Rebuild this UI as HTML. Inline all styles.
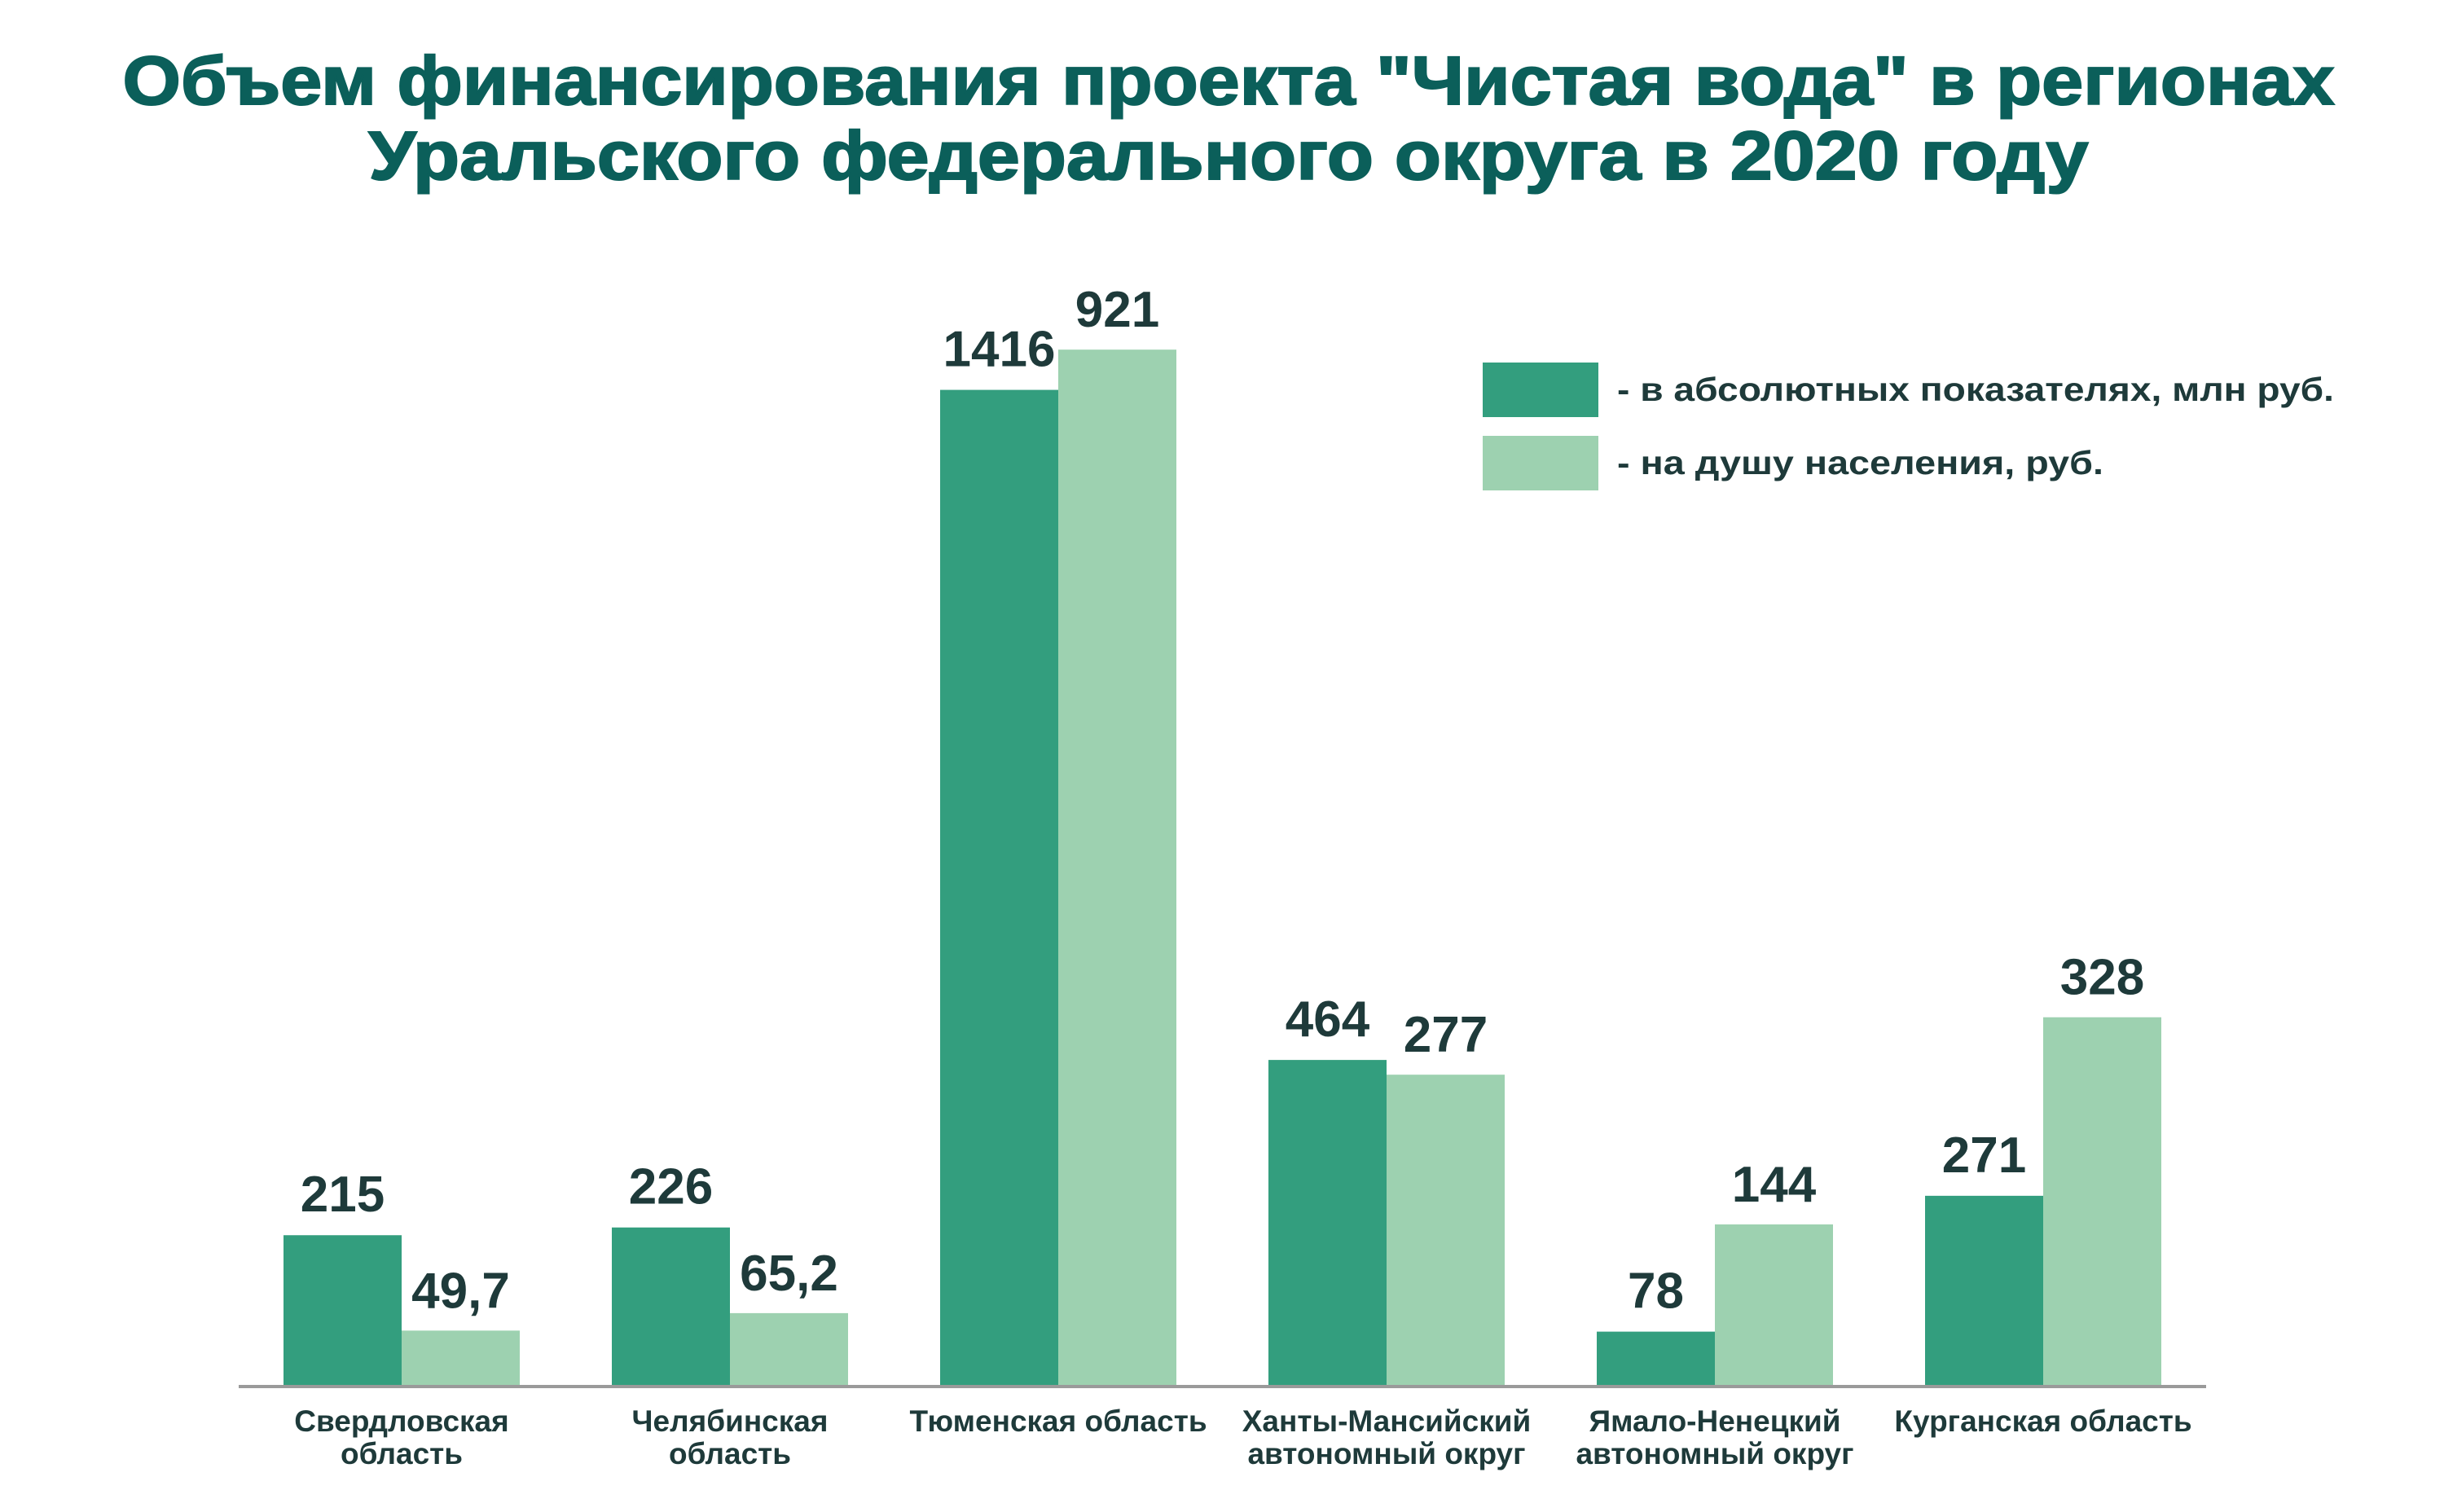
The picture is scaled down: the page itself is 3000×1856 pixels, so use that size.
<!DOCTYPE html>
<html><head><meta charset="utf-8">
<style>
html,body{margin:0;padding:0;background:#fff;}
svg{display:block;font-family:"Liberation Sans",sans-serif;}
</style></head>
<body>
<svg id="chart" width="3000" height="1856" viewBox="0 0 3000 1856" xmlns="http://www.w3.org/2000/svg">
<rect width="3000" height="1856" fill="#fff"/>
<g fill="#0b5f5a" font-weight="900" font-size="84" text-anchor="middle">
<text x="1508" y="128" textLength="2715" lengthAdjust="spacingAndGlyphs" stroke="#0b5f5a" stroke-width="2">Объем финансирования проекта "Чистая вода" в регионах</text>
<text x="1508" y="220" textLength="2111" lengthAdjust="spacingAndGlyphs" stroke="#0b5f5a" stroke-width="2">Уральского федерального округа в 2020 году</text>
</g>
<g>
<rect x="1820" y="445" width="142" height="67" fill="#339e7e"/>
<text x="1985" y="492" font-size="41" font-weight="bold" fill="#1e3a3a" textLength="880" lengthAdjust="spacingAndGlyphs">- в абсолютных показателях, млн руб.</text>
<rect x="1820" y="535" width="142" height="67" fill="#9dd1b0"/>
<text x="1985" y="582" font-size="41" font-weight="bold" fill="#1e3a3a" textLength="597" lengthAdjust="spacingAndGlyphs">- на душу населения, руб.</text>
</g>
<g id="bars"></g>
<line x1="293" y1="1702" x2="2708" y2="1702" stroke="#9a9a9a" stroke-width="4"/>
<g id="labels"></g>
</svg>
<script>
const categories = [["Свердловская","область"],["Челябинская","область"],["Тюменская область"],["Ханты-Мансийский","автономный округ"],["Ямало-Ненецкий","автономный округ"],["Курганская область"]];
const absoluteValues = [215, 226, 1416, 464, 78, 271];
const perCapitaValues = [49.7, 65.2, 921, 277, 144, 328];
const absoluteLabels = ["215","226","1416","464","78","271"];
const perCapitaLabels = ["49,7","65,2","921","277","144","328"];

const NS = "http://www.w3.org/2000/svg";
const baseY = 1702, x0 = 348, step = 403, bw = 145;
function yAbs(v){ return baseY - v * 0.864; }
function yPer(v){ return baseY - v * 1.382; }
function xGroup(i){ return x0 + i * step; }
const bars = document.getElementById("bars");
const labels = document.getElementById("labels");
function mk(tag, attrs, parent){ const e=document.createElementNS(NS,tag); for(const k in attrs) e.setAttribute(k,attrs[k]); parent.appendChild(e); return e; }
categories.forEach((cat,i)=>{
  const gx = xGroup(i);
  const ya = yAbs(absoluteValues[i]);
  const r1 = mk("rect",{x:gx,y:ya,width:bw,height:baseY-ya,fill:"#339e7e"},bars);
  
  
  const yp = yPer(perCapitaValues[i]);
  const r2 = mk("rect",{x:gx+bw,y:yp,width:bw,height:baseY-yp,fill:"#9dd1b0"},bars);
  
  
  const t1 = mk("text",{x:gx+bw/2,y:ya-29,"text-anchor":"middle","font-size":"62","font-weight":"bold",fill:"#1e3a3a"},labels);
  t1.textContent = absoluteLabels[i];
  
  
  const t2 = mk("text",{x:gx+bw*1.5,y:yp-28,"text-anchor":"middle","font-size":"62","font-weight":"bold",fill:"#1e3a3a"},labels);
  t2.textContent = perCapitaLabels[i];
  
  
  cat.forEach((line,j)=>{
    const t = mk("text",{x:gx+bw,y:1757+j*40,"text-anchor":"middle","font-size":"37","font-weight":"bold",fill:"#1e3a3a"},labels);
    t.textContent = line;
    
    
  });
});
</script>
</body></html>
